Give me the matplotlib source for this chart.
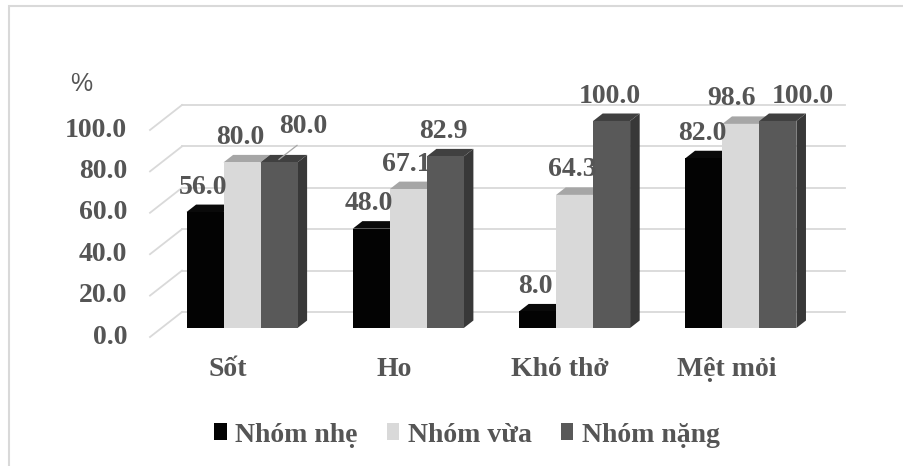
import matplotlib
matplotlib.use("Agg")
import matplotlib.pyplot as plt
from matplotlib.patches import Polygon, Rectangle, Patch
from matplotlib.lines import Line2D

# ---- data ----
categories = ["Sốt", "Ho", "Khó thở", "Mệt mỏi"]
series_names = ["Nhóm nhẹ", "Nhóm vừa", "Nhóm nặng"]
nhom_nhe = [56.0, 48.0, 8.0, 82.0]
nhom_vua = [80.0, 67.1, 64.3, 98.6]
nhom_nang = [80.0, 82.9, 100.0, 100.0]
y_ticks = [0, 20, 40, 60, 80, 100]
y_tick_labels = ["0.0", "20.0", "40.0", "60.0", "80.0", "100.0"]

series_values = [nhom_nhe, nhom_vua, nhom_nang]

# ---- styling ----
front_colors = ["#030303", "#d9d9d9", "#595959"]
top_colors = ["#0a0a0a", "#a6a6a6", "#404040"]
side_colors = ["#000000", "#bfbfbf", "#383838"]
text_color = "#555555"
grid_color = "#d9d9d9"
FONT = "Liberation Serif"
FS = 20

W, H = 904, 466
fig = plt.figure(figsize=(W / 100, H / 100), dpi=100)
fig.patch.set_facecolor("white")

# floor front edge: px 150..813 horizontally, value 0 at px 337 from the top
ax_left, ax_right, ax_bottom_px, ax_h = 150, 813, 337, 207
ax = fig.add_axes([ax_left / W, (H - ax_bottom_px) / H, (ax_right - ax_left) / W, ax_h / H])
ax.set_axis_off()
xlim = (-0.484, 3.503)
ax.set_xlim(*xlim)
ax.set_ylim(0, 100)

# pixel -> data conversion for the oblique depth direction
sx = (ax_right - ax_left) / (xlim[1] - xlim[0])
sy = ax_h / 100.0
DEPTH_PX = (32.0, 25.0)          # full floor depth in pixels (right, up)


def shift(d):
    return d * DEPTH_PX[0] / sx, d * DEPTH_PX[1] / sy


# back wall gridlines, left side wall diagonals and value axis labels
bx, by = shift(1.0)
for v, lab in zip(y_ticks, y_tick_labels):
    ax.add_line(Line2D([xlim[0] + bx, xlim[1] + bx], [v + by, v + by],
                       color=grid_color, lw=1.3, zorder=1, clip_on=False))
    ax.add_line(Line2D([xlim[0], xlim[0] + bx], [v, v + by],
                       color=grid_color, lw=1.3, zorder=1, clip_on=False))
    ax.annotate(lab, xy=(xlim[0], v), xytext=(-23, 0), textcoords="offset pixels",
                ha="right", va="center", fontsize=FS, fontweight="bold",
                family=FONT, color=text_color, annotation_clip=False)

ax.annotate("%", xy=(xlim[0], 100), xytext=(-69, 46), textcoords="offset pixels",
            ha="center", va="center", fontsize=18, family="Liberation Sans",
            color=text_color, annotation_clip=False)

# 3D-style columns
bar_w = 0.2225
front_d = 0.36
bar_depth = 0.30
fx, fy = shift(front_d)
ddx, ddy = shift(bar_depth)
offsets = [-bar_w, 0.0, bar_w]

for i in range(len(categories)):
    for k, vals in enumerate(series_values):
        v = vals[i]
        xc = i + offsets[k] + fx
        x0, x1 = xc - bar_w / 2, xc + bar_w / 2
        z = 3 + i * 10 + k * 3
        side = Polygon([(x1, fy), (x1 + ddx, fy + ddy), (x1 + ddx, v + fy + ddy), (x1, v + fy)],
                       closed=True, facecolor=side_colors[k], edgecolor="none", zorder=z, clip_on=False)
        top = Polygon([(x0, v + fy), (x1, v + fy), (x1 + ddx, v + fy + ddy), (x0 + ddx, v + fy + ddy)],
                      closed=True, facecolor=top_colors[k], edgecolor="none", zorder=z + 1, clip_on=False)
        ax.add_patch(side)
        ax.add_patch(top)
        ax.bar([xc], [v], width=bar_w, bottom=fy, color=front_colors[k],
               edgecolor="none", zorder=z + 2, clip_on=False)

# value labels (pixel nudges for a couple of labels that sit beside their column)
label_nudge = {(0, 2): (24, 36), (3, 2): (25, 25), (3, 1): (-9, 25)}
for i in range(len(categories)):
    for k, vals in enumerate(series_values):
        v = vals[i]
        xc = i + offsets[k] + fx
        nx, ny = label_nudge.get((i, k), (-2, 25))
        ax.annotate(f"{v:.1f}", xy=(xc, v + fy), xytext=(nx, ny), textcoords="offset pixels",
                    ha="center", va="center", fontsize=FS, fontweight="bold", family=FONT,
                    color=text_color, zorder=100, annotation_clip=False)

# leader line for the moved label
xc = 0 + offsets[2] + fx
ax.add_line(Line2D([xc, xc + 18 / sx], [nhom_nang[0] + fy + 3 / sy, nhom_nang[0] + fy + 17 / sy],
                   color="#a6a6a6", lw=0.9, zorder=99, clip_on=False))

# category labels under the floor
for i, c in enumerate(categories):
    ax.annotate(c, xy=(i, 0), xytext=(-3, -33), textcoords="offset pixels",
                ha="center", va="center", fontsize=FS, fontweight="bold", family=FONT,
                color=text_color, annotation_clip=False)

# legend
handles = [Patch(facecolor=c, edgecolor="none") for c in front_colors]
leg = fig.legend(handles, series_names, loc="center", bbox_to_anchor=(467 / W, 1 - 435 / H),
                 ncol=3, frameon=False, handlelength=0.45, handleheight=0.55,
                 handletextpad=0.3, columnspacing=1.05,
                 prop={"family": FONT, "weight": "bold", "size": FS})
for t in leg.get_texts():
    t.set_color(text_color)

# outer chart border
fig.add_artist(Rectangle((9 / W, -0.05), 1.2, 1 - 6 / H + 0.05, transform=fig.transFigure,
                         fill=False, edgecolor="#d9d9d9", lw=1.5))

fig.savefig("out.png", dpi=100, facecolor="white")
